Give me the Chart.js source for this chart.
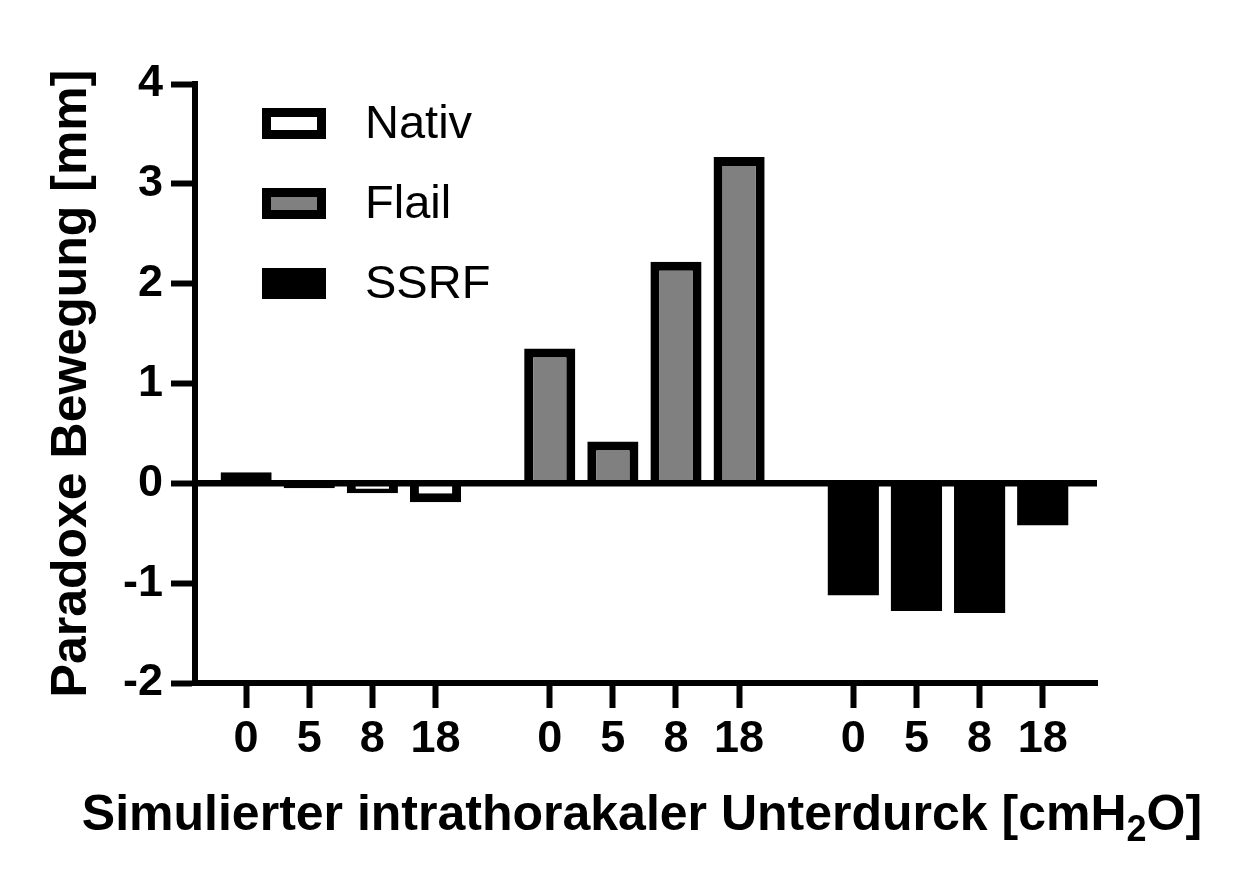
<!DOCTYPE html>
<html>
<head>
<meta charset="utf-8">
<script src="https://cdn.jsdelivr.net/npm/chart.js@4"></script>
<style>
  html, body { margin: 0; padding: 0; background: #ffffff; }
  canvas { display: block; }
</style>
</head>
<body>
<canvas id="chart" width="1249" height="894"></canvas>
<script>
// Values
const pressures = ['0', '5', '8', '18'];
const groupNames = ['Nativ', 'Flail', 'SSRF'];
const nativValues = [0.11, -0.05, -0.10, -0.19];
const flailValues = [1.35, 0.42, 2.22, 3.27];
const ssrfValues = [-1.12, -1.28, -1.30, -0.42];
const yTicks = [-2, -1, 0, 1, 2, 3, 4];

const FONT = "'Liberation Sans', Arial, Helvetica, sans-serif";

// layout of the index axis: bars one unit apart, groups separated by a gap
const GROUP_STEP = 4.81;
const FIRST_OFFSET = 0.81;
const X_MAX = 14.29;

function barPos(group, i) {
    return group * GROUP_STEP + FIRST_OFFSET + i;
}

function groupData(values, group) {
    return values.map((v, i) => ({ x: barPos(group, i), y: v }));
}

const tickPositions = [];
groupNames.forEach((g, gi) => pressures.forEach((p, i) => tickPositions.push(barPos(gi, i))));

const fills = ['#ffffff', '#808080', '#000000'];

// zero line drawn on top of the bars
const zeroLine = {
    id: 'zeroLine',
    afterDatasetsDraw(chart) {
        const { ctx, chartArea, scales } = chart;
        const y0 = scales.y.getPixelForValue(0);
        ctx.save();
        ctx.strokeStyle = '#000';
        ctx.lineWidth = 6.5;
        ctx.beginPath();
        ctx.moveTo(chartArea.left - 3, y0);
        ctx.lineTo(chartArea.right, y0);
        ctx.stroke();
        ctx.restore();
    }
};

// legend inside the plot area, top left
const insideLegend = {
    id: 'insideLegend',
    afterDraw(chart) {
        const { ctx, chartArea } = chart;
        const boxW = 64, boxH = 31, bw = 9;
        const left = chartArea.left + 67;
        const top = chartArea.top + 24;
        ctx.save();
        chart.data.datasets.forEach((ds, i) => {
            const y = top + i * 80;
            ctx.fillStyle = '#000';
            ctx.fillRect(left, y, boxW, boxH);
            ctx.fillStyle = ds.backgroundColor;
            ctx.fillRect(left + bw, y + bw, boxW - 2 * bw, boxH - 2 * bw);
            ctx.fillStyle = '#000';
            ctx.font = '47px ' + FONT;
            ctx.textBaseline = 'middle';
            ctx.textAlign = 'left';
            ctx.fillText(ds.label, left + 103, y + boxH / 2 + 2);
        });
        ctx.restore();
    }
};

// x axis title with subscript
const xTitle = {
    id: 'xTitle',
    afterDraw(chart) {
        const { ctx, chartArea } = chart;
        const parts = [
            { t: 'Simulierter intrathorakaler Unterdurck [cmH', size: 50, dy: 0 },
            { t: '2', size: 36, dy: 11 },
            { t: 'O]', size: 50, dy: 0 }
        ];
        ctx.save();
        ctx.fillStyle = '#000';
        ctx.textBaseline = 'alphabetic';
        ctx.textAlign = 'left';
        let total = 0;
        parts.forEach(p => {
            ctx.font = 'bold ' + p.size + 'px ' + FONT;
            p.w = ctx.measureText(p.t).width;
            total += p.w;
        });
        let x = (chartArea.left + chartArea.right) / 2 - 4 - total / 2;
        const baseline = 830;
        parts.forEach(p => {
            ctx.font = 'bold ' + p.size + 'px ' + FONT;
            ctx.fillText(p.t, x, baseline + p.dy);
            x += p.w;
        });
        ctx.restore();
    }
};

new Chart(document.getElementById('chart'), {
    type: 'bar',
    data: {
        datasets: [
            {
                label: groupNames[0],
                data: groupData(nativValues, 0),
                backgroundColor: fills[0],
                // tiny positive bar: keep it solid like the original
                borderSkipped: ctx => (ctx.raw && ctx.raw.y > 0) ? false : 'start'
            },
            { label: groupNames[1], data: groupData(flailValues, 1), backgroundColor: fills[1] },
            { label: groupNames[2], data: groupData(ssrfValues, 2), backgroundColor: fills[2], borderWidth: 0 }
        ]
    },
    options: {
        responsive: false,
        animation: false,
        devicePixelRatio: 1,
        layout: {
            padding: { top: 84, right: 152, left: 0, bottom: 0 }
        },
        datasets: {
            bar: {
                grouped: false,
                borderColor: '#000',
                borderWidth: 9,
                borderSkipped: 'start',
                categoryPercentage: 1,
                barPercentage: 0.81
            }
        },
        plugins: {
            legend: { display: false },
            tooltip: { enabled: false }
        },
        scales: {
            x: {
                type: 'linear',
                min: 0,
                max: X_MAX,
                offset: false,
                afterBuildTicks(scale) {
                    scale.ticks = tickPositions.map(v => ({ value: v }));
                },
                afterFit(scale) {
                    scale.height = 894 - 683;
                },
                grid: {
                    offset: false,
                    drawOnChartArea: false,
                    drawTicks: true,
                    tickLength: 25,
                    tickWidth: 6,
                    tickColor: '#000'
                },
                border: { display: true, color: '#000', width: 6 },
                ticks: {
                    autoSkip: false,
                    maxRotation: 0,
                    padding: 5,
                    color: '#000',
                    font: { family: FONT, size: 45, weight: 'bold' },
                    callback: (value, index) => pressures[index % pressures.length]
                }
            },
            y: {
                min: -2,
                max: 4,
                afterBuildTicks(scale) {
                    scale.ticks = yTicks.map(v => ({ value: v }));
                },
                afterFit(scale) {
                    scale.width = 195;
                },
                grid: {
                    drawOnChartArea: false,
                    drawTicks: true,
                    tickLength: 24,
                    tickWidth: 6,
                    tickColor: '#000'
                },
                border: { display: true, color: '#000', width: 6 },
                ticks: {
                    padding: 8,
                    color: '#000',
                    font: { family: FONT, size: 45, weight: 'bold' },
                    callback: v => String(v)
                },
                title: {
                    display: true,
                    text: 'Paradoxe Bewegung [mm]',
                    color: '#000',
                    font: { family: FONT, size: 50, weight: 'bold' },
                    padding: { top: 42, bottom: 0 }
                }
            }
        }
    },
    plugins: [zeroLine, insideLegend, xTitle]
});
</script>
</body>
</html>
